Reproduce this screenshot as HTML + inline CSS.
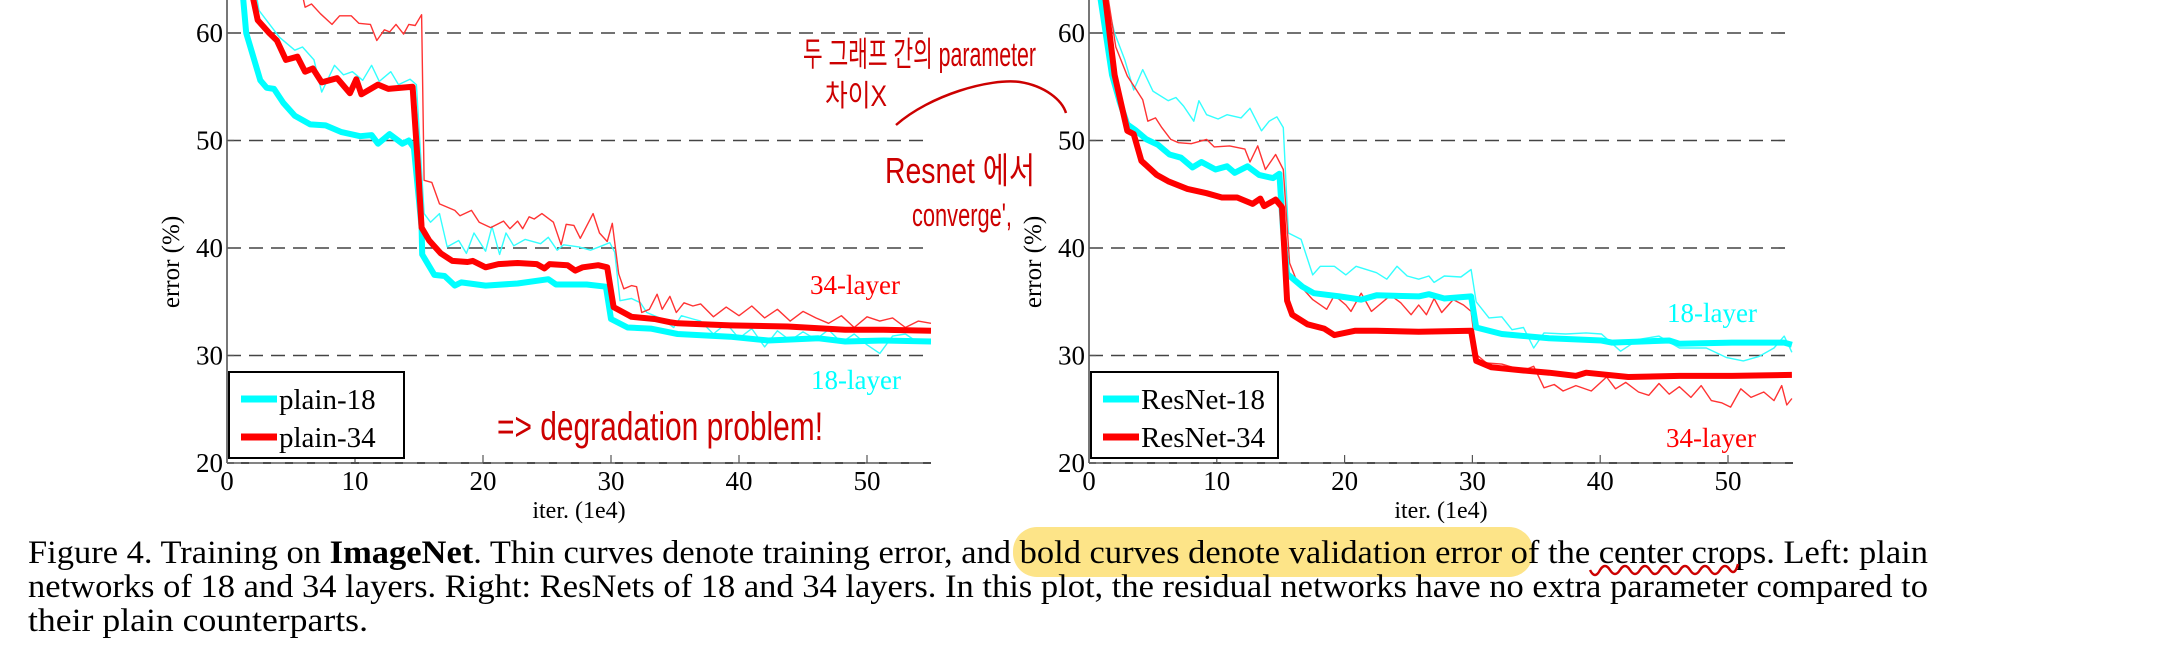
<!DOCTYPE html>
<html><head><meta charset="utf-8">
<style>
html,body{margin:0;padding:0;background:#fff;}
svg{display:block;}
text{font-family:"Liberation Serif","Noto Serif CJK SC",serif;}
.hw{font-family:"Liberation Sans","Noto Sans CJK KR",sans-serif;fill:#cc0000;}
</style></head>
<body>
<svg id="s" width="2160" height="657" viewBox="0 0 2160 657" xmlns="http://www.w3.org/2000/svg">
<!-- caption highlight -->
<rect x="1013" y="527" width="520" height="50" rx="24" fill="#fde488"/>
<g font-size="33" fill="#000">
<text x="28" y="563" textLength="1900" lengthAdjust="spacingAndGlyphs">Figure 4. Training on <tspan font-weight="bold">ImageNet</tspan>. Thin curves denote training error, and bold curves denote validation error of the center crops. Left: plain</text>
<text x="28" y="597" textLength="1900" lengthAdjust="spacingAndGlyphs">networks of 18 and 34 layers. Right: ResNets of 18 and 34 layers. In this plot, the residual networks have no extra parameter compared to</text>
<text x="28" y="631" textLength="340" lengthAdjust="spacingAndGlyphs">their plain counterparts.</text>
</g>
<path d="M1590 570 q5 10 10 0 q5 -8 10 0 q5 8 10 0 q5 -8 10 0 q5 8 10 0 q5 -8 10 0 q5 8 10 0 q5 -8 10 0 q5 8 10 0 q5 -8 10 0 q5 8 10 0 q5 -8 10 0 q5 8 10 0 q5 -8 10 0 q5 6 8 -6" stroke="#cc0000" stroke-width="2.5" fill="none"/>
<g id="plots"></g>
<!-- annotations -->
<text class="hw" x="803" y="66" font-size="34" textLength="233" lengthAdjust="spacingAndGlyphs">두 그래프 간의 parameter</text>
<text class="hw" x="825" y="106" font-size="30" textLength="62" lengthAdjust="spacingAndGlyphs">차이X</text>
<path d="M896 125 C930 95 990 78 1020 82 C1045 86 1062 100 1066 113" stroke="#cc0000" stroke-width="2.5" fill="none"/>
<text class="hw" x="885" y="183" font-size="36" textLength="150" lengthAdjust="spacingAndGlyphs">Resnet 에서</text>
<text class="hw" x="912" y="226" font-size="32" textLength="100" lengthAdjust="spacingAndGlyphs">converge',</text>
<text class="hw" x="497" y="440" font-size="40" textLength="326" lengthAdjust="spacingAndGlyphs">=&gt; degradation problem!</text>
</svg>
<script>
const NS="http://www.w3.org/2000/svg";
const g=document.getElementById('plots');
function el(n,a,t){const e=document.createElementNS(NS,n);for(const k in a)e.setAttribute(k,a[k]);if(t!==undefined)e.textContent=t;g.appendChild(e);return e;}
const Y=v=>463-(v-20)*10.75;
function plot(x0,unit,xend,data,legend,lab18,lab34,leg){
  const X=t=>x0+t*unit;
  // clip
  const id='c'+x0;
  const d=document.createElementNS(NS,'clipPath');d.setAttribute('id',id);
  const r=document.createElementNS(NS,'rect');r.setAttribute('x',x0);r.setAttribute('y',0);r.setAttribute('width',xend-x0);r.setAttribute('height',463);
  d.appendChild(r);g.appendChild(d);
  // gridlines
  [30,40,50,60].forEach(v=>{el('line',{x1:x0,x2:xend,y1:Y(v),y2:Y(v),stroke:'#444','stroke-width':1.6,'stroke-dasharray':'14 8'});});
  el('line',{x1:x0,x2:xend,y1:463,y2:463,stroke:'#333','stroke-width':1.8});
  el('line',{x1:x0,x2:xend,y1:463,y2:463,stroke:'#888','stroke-width':1.8,'stroke-dasharray':'14 8'});
  el('line',{x1:x0,x2:x0,y1:0,y2:463,stroke:'#777','stroke-width':2});
  [20,30,40,50,60].forEach(v=>{el('line',{x1:x0,x2:x0+7,y1:Y(v),y2:Y(v),stroke:'#555','stroke-width':1.2});
    el('text',{x:x0-4,y:Y(v)+9,'font-size':27,'text-anchor':'end'},String(v));});
  [0,10,20,30,40,50].forEach(t=>{if(t>0)el('line',{x1:X(t),x2:X(t),y1:463,y2:455,stroke:'#555','stroke-width':1.2});
    el('text',{x:X(t),y:490,'font-size':27,'text-anchor':'middle'},String(t));});
  el('text',{x:(x0+xend)/2,y:518,'font-size':24,'text-anchor':'middle'},'iter. (1e4)');
  const ex=x0-48,ey=262;
  el('text',{x:ex,y:ey,'font-size':25,'text-anchor':'middle',transform:`rotate(-90 ${ex} ${ey})`},'error (%)');
  const gg=document.createElementNS(NS,'g');gg.setAttribute('clip-path',`url(#${id})`);g.appendChild(gg);
  data.forEach(s=>{const p=document.createElementNS(NS,'polyline');
    p.setAttribute('points',s.pts.map(q=>X(q[0]).toFixed(1)+','+Y(q[1]).toFixed(1)).join(' '));
    p.setAttribute('fill','none');p.setAttribute('stroke',s.c);p.setAttribute('stroke-width',s.w);p.setAttribute('stroke-linejoin','round');gg.appendChild(p);});
  // legend
  el('rect',{x:x0+2,y:372,width:leg,height:86,fill:'#fff',stroke:'#000','stroke-width':2});
  el('line',{x1:x0+14,x2:x0+50,y1:399,y2:399,stroke:'#00ffff','stroke-width':7});
  el('line',{x1:x0+14,x2:x0+50,y1:437,y2:437,stroke:'#ff0000','stroke-width':7});
  el('text',{x:x0+52,y:409,'font-size':29},legend[0]);
  el('text',{x:x0+52,y:447,'font-size':29},legend[1]);
  el('text',{x:lab18[0],y:lab18[1],'font-size':27,fill:'#00ffff'},'18-layer');
  el('text',{x:lab34[0],y:lab34[1],'font-size':27,fill:'#ff0000'},'34-layer');
}
const L_c_thin=[[2.3,63.5],[2.5,62.1],[4.1,59.6],[5.3,58.4],[5.9,58.7],[6.8,57.5],[7.4,54.5],[8.4,57],[9.1,56.1],[9.8,56.4],[10.6,55.6],[11.3,57],[11.9,55.5],[12.8,56.4],[13.4,55.2],[14.3,55.7],[14.8,55.2],[15.4,43.2],[15.9,42.4],[16.6,43.2],[17.2,40.1],[18.1,40.7],[18.7,39.5],[19.3,41.4],[20.2,39.7],[20.7,42],[21.3,39.4],[21.8,41.4],[22.4,40.2],[23.3,40.8],[24.5,40.4],[25.1,41],[25.8,39.8],[26.3,40.3],[27.5,40.1],[28.4,39.8],[29.3,40.2],[29.9,40.5],[30.3,39.6],[30.7,35.1],[31.6,35.3],[32.3,34.9],[32.8,34],[34,33.4],[34.9,32.6],[35.5,33.7],[36.4,33.4],[37,33.2],[38,32],[39,33],[40,31.6],[41,32.5],[42,30.8],[43,32.3],[44,31.4],[45,32.2],[46,31.5],[47,32.4],[48,31.2],[49,32],[50,31],[51,30.2],[52,31.8],[53,32],[54,31.2],[55,31.5]];
const L_r_thin=[[5.9,63.5],[6.1,62.4],[6.6,62.7],[7.3,61.8],[8.2,60.8],[8.8,61.6],[9.7,61.6],[10.3,60.9],[11.2,60.8],[11.7,59.3],[12.3,60.3],[12.7,60.1],[13.2,60.8],[13.8,59.9],[14.2,60.8],[14.7,60.7],[15.2,61.7],[15.4,46.3],[16,46.1],[16.6,44.1],[17.8,43.5],[18.2,43],[19.1,43.5],[19.7,42.4],[20.6,41.9],[21.6,42.5],[22.1,41.8],[22.7,42.5],[23.1,41.8],[23.6,42.9],[24,42.7],[24.6,43.2],[25.5,42.4],[26.1,40.3],[26.5,42.2],[27.1,42.1],[27.6,40.9],[28.6,43.2],[29.1,41.4],[29.7,40.6],[30.1,42.3],[30.6,37.6],[31,36.2],[31.6,36.5],[32,36.4],[32.4,34],[33,34.3],[33.6,35.7],[34,34.3],[34.6,35.5],[35.1,34],[35.7,34.9],[36.4,34.6],[37,34.8],[38,33.6],[39,34.5],[40,33.7],[41,34.6],[42,33.5],[43,34.3],[44,33.2],[45,34.1],[46,33.5],[47,33],[48,33.7],[49,32.6],[50,33.6],[51,33.2],[52,33.5],[53,32.6],[54,33.2],[55,33]];
const L_c=[[1.2,64],[1.5,60],[2.6,55.6],[3.1,54.9],[3.67,54.8],[4.4,53.5],[5.3,52.3],[6.5,51.5],[7.7,51.4],[8.9,50.8],[10.4,50.4],[11.3,50.5],[11.8,49.7],[12.7,50.6],[13.7,49.7],[14.2,50],[14.6,49.3],[15.2,41.9],[15.25,39.4],[16.2,37.5],[17,37.4],[17.8,36.5],[18.3,36.8],[20.2,36.5],[22.7,36.7],[25.1,37.1],[25.7,36.6],[28.1,36.6],[29.6,36.4],[30,33.4],[31.3,32.6],[33.1,32.5],[35.2,32],[39.3,31.75],[42.3,31.4],[46.2,31.6],[48.3,31.3],[51.3,31.4],[55,31.3]];
const L_r=[[1.9,64],[2.4,61.2],[3.3,60],[3.9,59.3],[4.6,57.5],[5.5,57.8],[6.1,56.4],[6.7,56.7],[7.4,55.4],[8.6,55.8],[9.6,54.4],[10.1,55.7],[10.5,54.3],[11.8,55.2],[12.6,54.8],[14.5,55],[14.9,48],[15.2,41.9],[15.8,40.7],[16.7,39.5],[17.6,38.8],[18.8,38.7],[19.2,38.8],[20.2,38.2],[21.2,38.5],[22.7,38.6],[24.2,38.5],[24.8,38.1],[25.2,38.5],[26.6,38.4],[27.2,37.9],[27.8,38.2],[29,38.4],[29.7,38.2],[30.2,34.5],[31.6,33.6],[33.4,33.4],[34.6,33.1],[35.2,33],[39.3,32.8],[43.8,32.7],[48.3,32.4],[51.3,32.4],[55,32.3]];
plot(227,12.8,931,[
 {pts:L_c_thin,c:'#33ffff',w:1.4},{pts:L_r_thin,c:'#ff3333',w:1.4},
 {pts:L_c,c:'#00ffff',w:6},{pts:L_r,c:'#ff0000',w:6}],
 ['plain-18','plain-34'],[811,389],[810,294],175);
const R_c_thin=[[1.2,64],[2,60],[2.8,57.5],[3.5,54.7],[4.2,56.6],[5,54.6],[6.2,53.7],[6.8,54],[7.4,53.2],[8.2,51.8],[8.6,53.7],[9.2,52.4],[10.1,52],[10.8,52.4],[11.9,52.1],[12.6,53],[13.5,50.9],[14.1,51.8],[14.7,52.2],[15.2,51.2],[15.6,41.4],[16.6,40.8],[17.5,37.5],[18.1,38.3],[19.2,38.3],[20.1,37.5],[20.9,38.3],[22.5,37.7],[23.3,37.1],[24.1,38.3],[24.9,37.4],[25.8,37.1],[26.6,37.4],[27,36.8],[27.8,37.4],[29.1,37.3],[29.9,38],[30.3,35],[31.3,33.5],[32.3,33.6],[33.1,32.4],[34,32.6],[34.8,30.7],[35.6,32.1],[37.3,32],[38.9,32.1],[40.1,32],[41.6,30.4],[43,31.5],[44.6,31.8],[46.2,30.7],[48.3,30.7],[49.9,29.8],[51.2,29.5],[52.4,29.9],[53.6,30.7],[54.4,31.8],[55,30.3]];
const R_r_thin=[[1.4,64],[2.1,58.7],[3,56],[3.6,54.9],[4.2,53.8],[4.6,51.8],[5.2,52.1],[5.7,51.2],[6.4,50.1],[7,49.8],[8,49.7],[9.2,50.1],[9.8,49.4],[11,49.5],[12.2,49.2],[12.6,48],[13.2,49.5],[13.8,47.3],[14.6,48.7],[15.2,47.3],[15.7,38.6],[16.3,36.8],[17.5,35.2],[18.6,34.3],[19.2,35.6],[20.1,34.7],[20.5,34.1],[21.3,35.8],[22.1,34.1],[22.7,34.7],[23.6,35.6],[24.4,34.9],[25.2,33.8],[25.8,34.7],[26.4,33.8],[27,35.3],[27.6,34],[28.5,35.2],[29.3,34.7],[29.9,34.1],[30.3,30.1],[31.1,29.3],[32.3,29.2],[34,28.6],[34.8,29],[35.6,27],[36.4,27.3],[37.1,26.7],[38.1,27.2],[39.3,26.7],[40.5,28],[41.2,26.9],[42,27.5],[43,26.6],[43.8,26.3],[44.6,27.4],[45.4,26.4],[46.2,27.1],[47.1,26.1],[47.9,27.2],[48.7,25.8],[49.5,25.6],[50.2,25.2],[51,26.9],[51.8,26.1],[52.8,26.6],[53.6,25.8],[54.2,27.2],[54.6,25.4],[55,26]];
const R_c=[[0.8,64],[1.8,56.1],[2.4,53.6],[3,51.5],[3.6,51],[4.5,50.1],[5.4,49.6],[6.3,48.7],[7.2,48.4],[8.1,47.5],[8.8,48],[9.9,47.3],[10.8,47.6],[11.4,47],[12.4,47.6],[13.3,46.8],[14.4,46.5],[14.9,46.9],[15.2,41.3],[15.5,37.6],[16.7,36.4],[17.6,35.8],[19.6,35.5],[21.3,35.2],[22.5,35.6],[25.8,35.5],[26.6,35.7],[27.8,35.3],[29.9,35.5],[30.3,32.6],[32.3,32],[36,31.6],[40.1,31.4],[40.9,31.2],[45.4,31.4],[46.2,31.1],[50.3,31.2],[54.4,31.2],[55,31]];
const R_r=[[1.2,64],[2,56.1],[3,50.9],[3.5,50.6],[4.1,48.1],[5.3,46.8],[6.2,46.2],[7.7,45.5],[9.2,45.1],[10.4,44.7],[11.6,44.7],[12.8,44.1],[13.4,44.6],[13.7,43.9],[14.6,44.5],[15.1,43.8],[15.5,35.1],[15.9,33.8],[17.1,32.9],[18.4,32.5],[19.2,31.9],[20.8,32.3],[22.5,32.3],[25.8,32.2],[29.9,32.3],[30.3,29.5],[31.5,28.9],[34,28.6],[36,28.4],[38.1,28.1],[38.9,28.4],[42.2,28],[46.2,28.1],[50.3,28.1],[55,28.2]];
plot(1089,12.78,1793,[
 {pts:R_c_thin,c:'#33ffff',w:1.4},{pts:R_r_thin,c:'#ff3333',w:1.4},
 {pts:R_c,c:'#00ffff',w:6},{pts:R_r,c:'#ff0000',w:6}],
 ['ResNet-18','ResNet-34'],[1667,322],[1666,447],187);
</script>
</body></html>
